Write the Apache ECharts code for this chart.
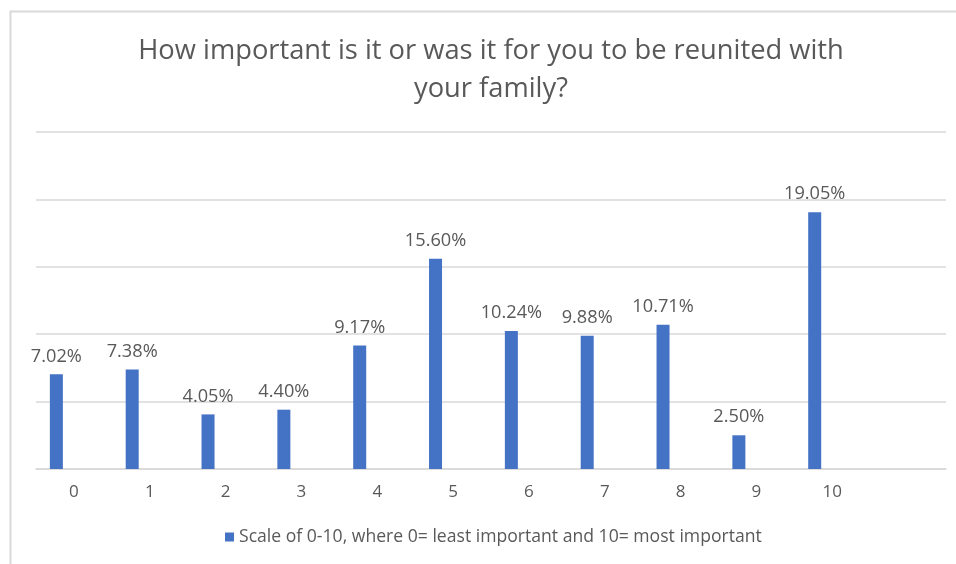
<!DOCTYPE html>
<html>
<head>
<meta charset="utf-8">
<script src="https://cdn.jsdelivr.net/npm/echarts@6/dist/echarts.min.js"></script>
<style>
  html, body { margin: 0; padding: 0; background: #ffffff; }
  #chart { width: 956px; height: 564px; }
</style>
</head>
<body>
<div id="chart"></div>
<script>
// Scale points 0-10 (plus a trailing empty slot on the axis)
const categories = ['0', '1', '2', '3', '4', '5', '6', '7', '8', '9', '10', ''];
// Share of respondents, in percent
const shares = [7.02, 7.38, 4.05, 4.40, 9.17, 15.60, 10.24, 9.88, 10.71, 2.50, 19.05, null];
const seriesName = 'Scale of 0-10, where 0= least important and 10= most important';
const titleText = 'How important is it or was it for you to be reunited with\nyour family?';

const FONT = '"Open Sans", Lato, sans-serif';
const TEXT = '#595959';
const GRID = '#d9d9d9';

const chart = echarts.init(document.getElementById('chart'), null, { renderer: 'canvas' });

chart.setOption({
  backgroundColor: '#ffffff',
  animation: false,
  graphic: [{
    type: 'rect',
    shape: { x: 10.5, y: 11.5, width: 960, height: 560 },
    style: { fill: 'none', stroke: GRID, lineWidth: 2 },
    silent: true
  }],
  title: {
    text: titleText,
    left: 486,
    textAlign: 'center',
    top: 27,
    textStyle: {
      fontFamily: FONT,
      fontSize: 27.3,
      fontWeight: 'normal',
      color: TEXT,
      lineHeight: 38
    }
  },
  legend: {
    data: [seriesName],
    bottom: 13,
    left: 220,
    itemWidth: 9,
    itemHeight: 9,
    itemGap: 6,
    icon: 'rect',
    textStyle: { fontFamily: FONT, fontSize: 17.6, color: TEXT }
  },
  grid: { left: 36, right: 10, top: 132, bottom: 95, containLabel: false },
  xAxis: {
    type: 'category',
    data: categories,
    axisLine: { lineStyle: { color: GRID, width: 1.5 } },
    axisTick: { show: false },
    axisLabel: { fontFamily: FONT, fontSize: 17, color: TEXT, margin: 15 }
  },
  yAxis: {
    type: 'value',
    min: 0,
    max: 25,
    interval: 5,
    axisLabel: { show: false },
    axisLine: { show: false },
    axisTick: { show: false },
    splitLine: { lineStyle: { color: GRID, width: 1.5 } }
  },
  series: [{
    name: seriesName,
    type: 'bar',
    data: shares,
    barWidth: 13,
    barGap: '170%',
    itemStyle: { color: '#4472C4' },
    label: {
      show: true,
      position: 'top',
      distance: 9,
      fontFamily: FONT,
      fontSize: 18.2,
      color: TEXT,
      formatter: p => p.value.toFixed(2) + '%'
    }
  }, {
    name: 'spacer',
    type: 'bar',
    data: categories.map(() => null),
    barWidth: 13,
    itemStyle: { color: '#ed7d31' }
  }]
});
</script>
</body>
</html>
